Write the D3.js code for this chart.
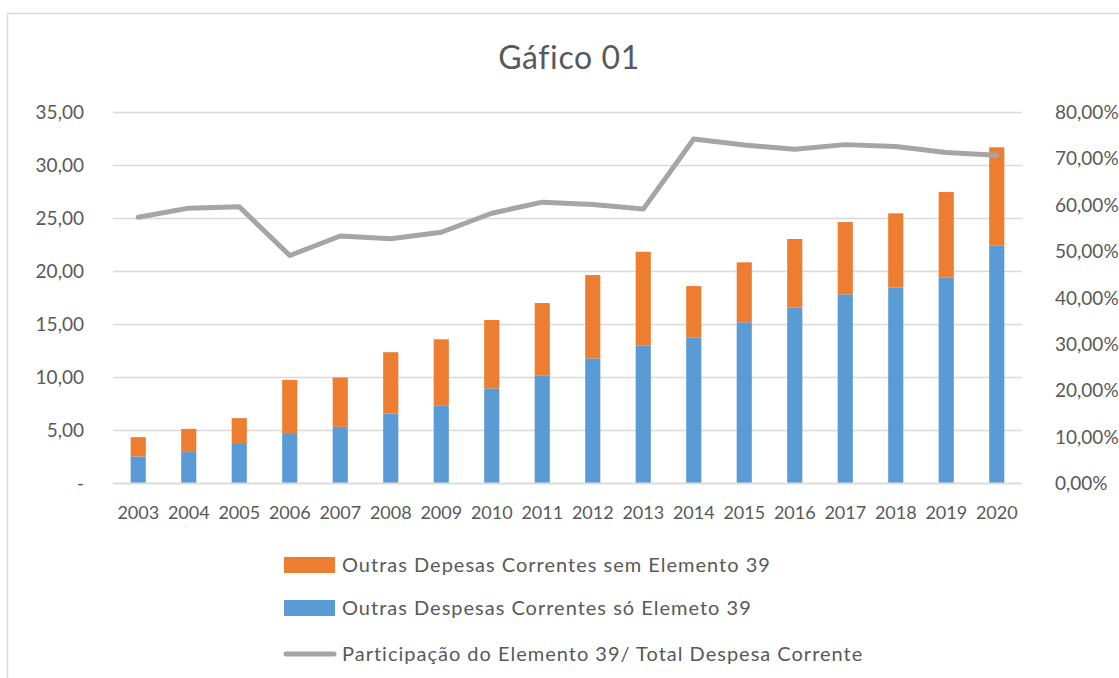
<!DOCTYPE html>
<meta charset="utf-8">
<script src="https://d3js.org/d3.v7.min.js"></script>
<style>
  body { margin: 0; background: #fff; overflow: hidden; }
  svg { display: block; }
  text { font-family: Lato, "Open Sans", sans-serif; fill: #595959; }
</style>
<div id="my_dataviz"></div>
<script>

// data
var years = ["2003","2004","2005","2006","2007","2008","2009","2010","2011","2012",
             "2013","2014","2015","2016","2017","2018","2019","2020"];
// blue: Outras Despesas Correntes só Elemeto 39
var soElemento39 = [2.48, 2.89, 3.74, 4.68, 5.27, 6.53, 7.31, 8.90, 10.13, 11.73,
                    12.92, 13.71, 15.13, 16.54, 17.77, 18.40, 19.37, 22.39];
// orange: Outras Depesas Correntes sem Elemento 39
var semElemento39 = [1.82, 2.19, 2.35, 5.02, 4.65, 5.78, 6.22, 6.45, 6.82, 7.86,
                     8.87, 4.84, 5.66, 6.45, 6.82, 7.01, 8.05, 9.25];
// grey line (right axis)
var participacao = [0.5725, 0.592, 0.595, 0.490, 0.532, 0.526, 0.540, 0.581, 0.605, 0.600,
                    0.590, 0.741, 0.728, 0.719, 0.729, 0.725, 0.712, 0.706];

var leftTicks = [0, 5, 10, 15, 20, 25, 30, 35];
var rightTicks = [0, 0.1, 0.2, 0.3, 0.4, 0.5, 0.6, 0.7, 0.8];

var legendNames = ["Outras Depesas Correntes sem Elemento 39",
                   "Outras Despesas Correntes só Elemeto 39",
                   "Participação do Elemento 39/ Total Despesa Corrente"];

var W = 1119, H = 678;
var plot = {left: 113, right: 1022, top: 111.7, bottom: 482.7};

var svg = d3.select("#my_dataviz")
  .append("svg")
    .attr("width", W)
    .attr("height", H);

// chart frame
svg.append("rect")
  .attr("x", 7.5).attr("y", 13.5)
  .attr("width", 1300).attr("height", 900)
  .attr("fill", "#fff")
  .attr("stroke", "#d9d9d9")
  .attr("stroke-width", 1.5);

// title
svg.append("text")
  .attr("x", 569)
  .attr("y", 69)
  .attr("text-anchor", "middle")
  .style("font-size", "32px")
  .style("letter-spacing", "0.6px")
  .text("Gáfico 01");

var x = d3.scaleBand()
  .domain(years)
  .range([plot.left, plot.right])
  .paddingInner(0.7)
  .paddingOuter(0.35);

var y = d3.scaleLinear().domain([0, 35]).range([plot.bottom, plot.top]);
var y2 = d3.scaleLinear().domain([0, 0.8]).range([plot.bottom, plot.top]);

// gridlines
svg.append("g")
  .selectAll("line")
  .data(leftTicks)
  .enter()
  .append("line")
    .attr("x1", plot.left)
    .attr("x2", plot.right)
    .attr("y1", function(d) { return Math.round(y(d)) + 0.5; })
    .attr("y2", function(d) { return Math.round(y(d)) + 0.5; })
    .attr("stroke", "#d9d9d9")
    .attr("stroke-width", 1.3);

// left axis
var fmtLeft = function(d) { return d === 0 ? "-" : d3.format(".2f")(d).replace(".", ","); };
var leftAxis = svg.append("g")
  .attr("transform", "translate(" + (plot.left - 29) + ",0)")
  .call(d3.axisLeft(y).tickValues(leftTicks).tickFormat(fmtLeft).tickSize(0).tickPadding(0));
leftAxis.select(".domain").remove();
leftAxis.selectAll("text")
  .attr("dy", "0.36em")
  .style("font-size", "19px")
  .style("font-family", "Lato, sans-serif")
  .attr("fill", "#595959");

// right axis
var fmtRight = function(d) { return d3.format(".2f")(d * 100).replace(".", ",") + "%"; };
var rightAxis = svg.append("g")
  .attr("transform", "translate(" + (plot.right + 33) + ",0)")
  .call(d3.axisRight(y2).tickValues(rightTicks).tickFormat(fmtRight).tickSize(0).tickPadding(0));
rightAxis.select(".domain").remove();
rightAxis.selectAll("text")
  .attr("dy", "0.36em")
  .style("font-size", "19px")
  .style("font-family", "Lato, sans-serif")
  .attr("fill", "#595959");

// x axis
var xAxis = svg.append("g")
  .attr("transform", "translate(0," + (plot.bottom + 30) + ")")
  .call(d3.axisBottom(x).tickSize(0).tickPadding(0));
xAxis.select(".domain").remove();
xAxis.selectAll("text")
  .attr("dy", "0.36em")
  .style("font-size", "18px")
  .style("font-family", "Lato, sans-serif")
  .attr("fill", "#595959");

// stacked bars
var rows = years.map(function(yr, i) {
  return {year: yr, so: soElemento39[i], sem: semElemento39[i]};
});
var stack = d3.stack().keys(["so", "sem"])(rows);
var colors = {so: "#5b9bd5", sem: "#ed7d31"};

svg.append("g")
  .selectAll("g")
  .data(stack)
  .enter()
  .append("g")
    .attr("fill", function(d) { return colors[d.key]; })
  .selectAll("rect")
  .data(function(d) { return d; })
  .enter()
  .append("rect")
    .attr("x", function(d) { return x(d.data.year); })
    .attr("width", x.bandwidth())
    .attr("y", function(d) { return y(d[1]); })
    .attr("height", function(d) { return y(d[0]) - y(d[1]); });

// baseline over bars
svg.append("line")
  .attr("x1", plot.left).attr("x2", plot.right)
  .attr("y1", Math.round(y(0)) + 0.5).attr("y2", Math.round(y(0)) + 0.5)
  .attr("stroke", "#d9d9d9")
  .attr("stroke-width", 1.3);

// participation line
svg.append("path")
  .datum(participacao)
  .attr("d", d3.line()
    .x(function(d, i) { return x(years[i]) + x.bandwidth() / 2; })
    .y(function(d) { return y2(d); })
  )
  .attr("fill", "none")
  .attr("stroke", "#a5a5a5")
  .attr("stroke-width", 5)
  .attr("stroke-linejoin", "round")
  .attr("stroke-linecap", "round");

// legend
var legend = svg.append("g");
var legendY = [565, 608, 654];

legend.append("rect")
  .attr("x", 284).attr("y", legendY[0] - 8).attr("width", 51).attr("height", 16)
  .attr("fill", colors.sem);
legend.append("rect")
  .attr("x", 284).attr("y", legendY[1] - 8).attr("width", 51).attr("height", 16)
  .attr("fill", colors.so);
legend.append("line")
  .attr("x1", 286).attr("x2", 334).attr("y1", legendY[2]).attr("y2", legendY[2])
  .attr("stroke", "#a5a5a5").attr("stroke-width", 5).attr("stroke-linecap", "round");

legend.selectAll("text")
  .data(legendNames)
  .enter()
  .append("text")
    .attr("x", 342)
    .attr("y", function(d, i) { return legendY[i]; })
    .attr("dy", "0.36em")
    .style("font-size", "20px")
    .style("letter-spacing", "1px")
    .text(function(d) { return d; });

</script>
